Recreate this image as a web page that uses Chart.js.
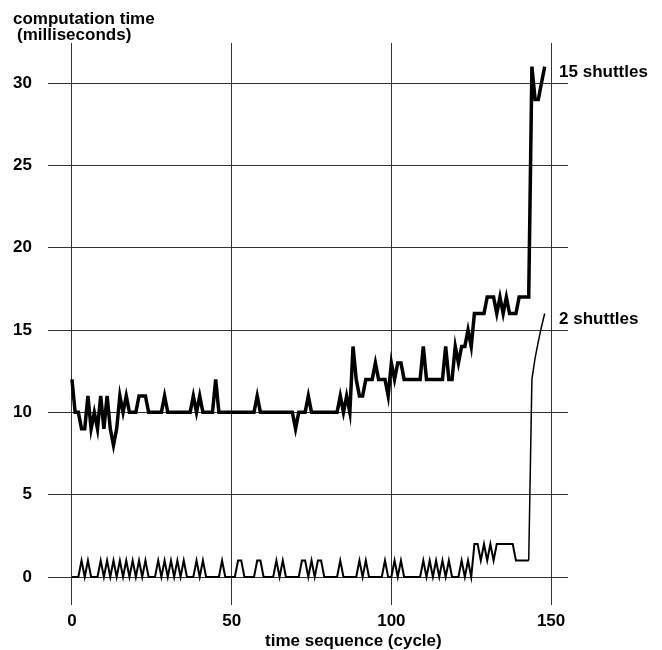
<!DOCTYPE html>
<html>
<head>
<meta charset="utf-8">
<script src="https://cdn.jsdelivr.net/npm/chart.js@4.4.0/dist/chart.umd.min.js"></script>
<style>
  html, body { margin: 0; padding: 0; background: #fff; }
</style>
</head>
<body>
<canvas id="chart" width="662" height="650"></canvas>
<script>
const xTicks = [0, 50, 100, 150];
const yTicks = [0, 5, 10, 15, 20, 25, 30];

const seriesNames = ["15 shuttles", "2 shuttles"];

// computation time (ms) per cycle, 15 shuttles
const shuttles15 = [
  12, 10, 10, 9, 9, 11, 9, 10, 9, 11,
  9, 11, 9, 8, 9, 11, 10, 11, 10, 10,
  10, 11, 11, 11, 10, 10, 10, 10, 10, 11,
  10, 10, 10, 10, 10, 10, 10, 10, 11, 10,
  11, 10, 10, 10, 10, 12, 10, 10, 10, 10,
  10, 10, 10, 10, 10, 10, 10, 10, 11, 10,
  10, 10, 10, 10, 10, 10, 10, 10, 10, 10,
  9, 10, 10, 10, 11, 10, 10, 10, 10, 10,
  10, 10, 10, 10, 11, 10, 11, 10, 14, 12,
  11, 11, 12, 12, 12, 13, 12, 12, 12, 11,
  13, 12, 13, 13, 12, 12, 12, 12, 12, 12,
  14, 12, 12, 12, 12, 12, 12, 14, 12, 12,
  14, 13, 14, 14, 15, 14, 16, 16, 16, 16,
  17, 17, 17, 16, 17, 16, 17, 16, 16, 16,
  17, 17, 17, 17, 31, 29, 29, 30, 31
];

// computation time (ms) per cycle, 2 shuttles
const shuttles2 = [
  0, 0, 0, 1, 0, 1, 0, 0, 0, 1,
  0, 1, 0, 1, 0, 1, 0, 1, 0, 1,
  0, 1, 0, 1, 0, 0, 0, 1, 0, 1,
  0, 1, 0, 1, 0, 1, 0, 0, 0, 1,
  0, 1, 0, 0, 0, 0, 0, 1, 0, 0,
  0, 0, 1, 1, 0, 0, 0, 0, 1, 1,
  0, 0, 0, 0, 1, 0, 1, 0, 0, 0,
  0, 0, 1, 1, 0, 1, 0, 1, 1, 0,
  0, 0, 0, 0, 1, 0, 0, 0, 0, 0,
  1, 0, 1, 0, 0, 0, 0, 0, 1, 0,
  0, 1, 0, 1, 0, 0, 0, 0, 0, 0,
  1, 0, 1, 0, 1, 0, 1, 0, 1, 0,
  0, 0, 1, 0, 1, 0, 2, 2, 1, 2,
  1, 2, 1, 2, 2, 2, 2, 2, 2, 1,
  1, 1, 1, 1, 12, 13.3, 14.3, 15.2, 16
];

const FONT = "'Liberation Sans', Arial, Helvetica, sans-serif";

function points(arr) {
  return arr.map((v, i) => ({ x: i, y: v }));
}

const textPlugin = {
  id: "textLabels",
  afterDraw(chart) {
    const ctx = chart.ctx;
    const xs = chart.scales.x;
    const ys = chart.scales.y;
    ctx.save();
    ctx.fillStyle = "#000";
    ctx.font = "bold 17px " + FONT;

    // y axis title, top left
    ctx.textAlign = "left";
    ctx.textBaseline = "alphabetic";
    ctx.fillText("computation time", 13, 24);
    ctx.fillText("(milliseconds)", 17, 40);

    // x axis title
    ctx.textBaseline = "middle";
    ctx.fillText("time sequence (cycle)", 265, 641);

    // series names beside the line ends
    const lx = xs.getPixelForValue(150) + 8;
    const last15 = shuttles15[shuttles15.length - 1];
    const last2 = shuttles2[shuttles2.length - 1];
    ctx.fillText(seriesNames[0], lx, ys.getPixelForValue(last15) + 6);
    ctx.fillText(seriesNames[1], lx, ys.getPixelForValue(last2) + 6);
    ctx.restore();
  }
};

const tickFont = { family: FONT, size: 17, weight: "bold" };

new Chart(document.getElementById("chart"), {
  type: "line",
  data: {
    datasets: [
      {
        label: seriesNames[0],
        data: points(shuttles15),
        borderColor: "#000",
        borderWidth: 3.5,
        borderJoinStyle: "miter",
        pointRadius: 0,
        tension: 0
      },
      {
        label: seriesNames[1],
        data: points(shuttles2),
        borderColor: "#000",
        borderWidth: 2,
        borderJoinStyle: "miter",
        pointRadius: 0,
        tension: 0,
        segment: {
          borderWidth: c => (c.p0.parsed.x >= 143 ? 1.5 : 2)
        }
      }
    ]
  },
  options: {
    responsive: false,
    animation: false,
    layout: { padding: { left: 0, right: 94, top: 43, bottom: 0 } },
    plugins: {
      legend: { display: false },
      tooltip: { enabled: false }
    },
    scales: {
      x: {
        type: "linear",
        min: -7.5,
        max: 155.3,
        afterBuildTicks: s => { s.ticks = xTicks.map(v => ({ value: v })); },
        afterFit: s => { s.height = 45; },
        grid: { color: "#333", lineWidth: 1, drawTicks: false },
        border: { display: false },
        ticks: { padding: 6, maxRotation: 0, autoSkip: false, color: "#000", font: tickFont }
      },
      y: {
        type: "linear",
        min: -1.7,
        max: 32.43,
        afterBuildTicks: s => { s.ticks = yTicks.map(v => ({ value: v })); },
        afterFit: s => { s.width = 48; },
        grid: { color: "#333", lineWidth: 1, drawTicks: false },
        border: { display: false },
        ticks: { padding: 16, color: "#000", font: tickFont }
      }
    }
  },
  plugins: [textPlugin]
});
</script>
</body>
</html>
